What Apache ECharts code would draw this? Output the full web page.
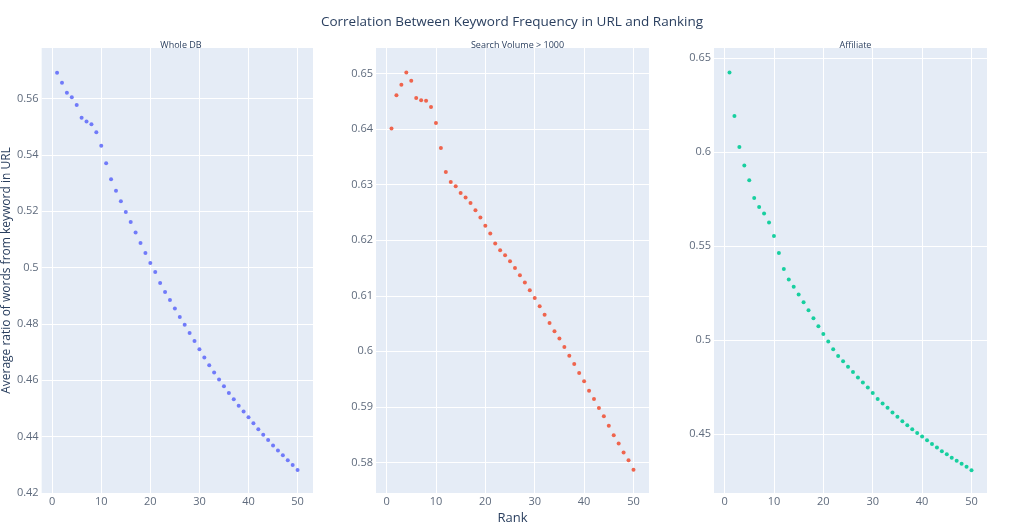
<!DOCTYPE html>
<html>
<head>
<meta charset="utf-8">
<script src="https://cdn.jsdelivr.net/npm/echarts@6/dist/echarts.min.js"></script>
<style>
  html, body { margin: 0; padding: 0; background: #fff; }
  #chart { width: 1024px; height: 530px; }
</style>
</head>
<body>
<div id="chart"></div>
<script>
// rank (x) for each panel
var ranks = [1,2,3,4,5,6,7,8,9,10,11,12,13,14,15,16,17,18,19,20,21,22,23,24,25,
             26,27,28,29,30,31,32,33,34,35,36,37,38,39,40,41,42,43,44,45,46,47,48,49,50];

// average ratio of words from keyword in URL
var wholeDB = [0.5692,0.5657,0.5621,0.5605,0.5578,0.5532,0.5519,0.5509,0.5481,0.5433,
               0.5371,0.5314,0.5273,0.5236,0.5198,0.5162,0.5125,0.5088,0.5052,0.5017,
               0.4985,0.4946,0.4914,0.4885,0.4855,0.4825,0.4797,0.4768,0.4740,0.4710,
               0.4681,0.4654,0.4628,0.4603,0.4579,0.4555,0.4533,0.4510,0.4489,0.4469,
               0.4448,0.4426,0.4407,0.4388,0.4369,0.4351,0.4334,0.4316,0.4299,0.4282];
var searchVol = [0.6401,0.6461,0.6480,0.6502,0.6487,0.6456,0.6452,0.6451,0.6440,0.6411,
                 0.6366,0.6323,0.6305,0.6297,0.6285,0.6277,0.6267,0.6254,0.6241,0.6226,
                 0.6212,0.6194,0.6182,0.6173,0.6162,0.6150,0.6137,0.6124,0.6110,0.6096,
                 0.6081,0.6066,0.6051,0.6036,0.6023,0.6008,0.5992,0.5977,0.5961,0.5946,
                 0.5929,0.5914,0.5898,0.5883,0.5866,0.5849,0.5834,0.5818,0.5804,0.5787];
var affiliate = [0.6423,0.6191,0.6026,0.5928,0.5850,0.5756,0.5707,0.5673,0.5625,0.5554,
                 0.5463,0.5378,0.5322,0.5283,0.5243,0.5201,0.5158,0.5116,0.5073,0.5032,
                 0.4993,0.4951,0.4916,0.4888,0.4858,0.4830,0.4801,0.4775,0.4748,0.4719,
                 0.4687,0.4663,0.4640,0.4615,0.4592,0.4569,0.4547,0.4526,0.4506,0.4487,
                 0.4467,0.4448,0.4429,0.4409,0.4393,0.4375,0.4359,0.4343,0.4327,0.4308];

var subTitles = ['Whole DB', 'Search Volume > 1000', 'Affiliate'];
var xTicks = [0, 10, 20, 30, 40, 50];
var yTicks1 = [0.42, 0.44, 0.46, 0.48, 0.5, 0.52, 0.54, 0.56];
var yTicks2 = [0.58, 0.59, 0.6, 0.61, 0.62, 0.63, 0.64, 0.65];
var yTicks3 = [0.45, 0.5, 0.55, 0.6, 0.65];

var colors = ['#636efa', '#ef553b', '#00cc96'];
var font = 'Open Sans';
var tickColor = '#5f6b7d';

var chart = echarts.init(document.getElementById('chart'), null, { renderer: 'canvas' });

var grids = [
  { left: 39, top: 48, width: 274, height: 445 },
  { left: 376, top: 48, width: 273, height: 445 },
  { left: 714, top: 48, width: 273, height: 445 }
];

function pairs(ys) {
  return ranks.map(function (r, i) { return [r, ys[i]]; });
}

function xAxis(i, name) {
  return {
    type: 'value', gridIndex: i, min: -2.14, max: 53.14,
    name: name || '', nameLocation: 'middle', nameGap: 16,
    nameTextStyle: { color: '#2a3f5f', fontSize: 13, fontFamily: font },
    axisLine: { show: false },
    axisTick: { show: false, customValues: xTicks },
    axisLabel: { customValues: xTicks, color: tickColor, fontSize: 11, fontFamily: font, margin: 3 },
    splitLine: { lineStyle: { color: '#ffffff', width: 1 } }
  };
}

function yAxis(i, min, max, ticks, name) {
  return {
    type: 'value', gridIndex: i, min: min, max: max,
    name: name || '', nameLocation: 'middle', nameGap: 27,
    nameTextStyle: { color: '#2a3f5f', fontSize: 12, fontFamily: font },
    axisLine: { show: false },
    axisTick: { show: false, customValues: ticks },
    axisLabel: {
      customValues: ticks, color: tickColor, fontSize: 11, fontFamily: font, margin: 3,
      formatter: function (v) { return String(+v.toFixed(2)); }
    },
    splitLine: { lineStyle: { color: '#ffffff', width: 1 } }
  };
}

var option = {
  backgroundColor: '#ffffff',
  animation: false,
  title: [
    { text: 'Correlation Between Keyword Frequency in URL and Ranking', left: 'center', top: 10,
      textStyle: { color: '#2a3f5f', fontSize: 13.5, fontWeight: 'normal', fontFamily: font } }
  ].concat(subTitles.map(function (t, i) {
    return {
      text: t, top: 36,
      left: grids[i].left + grids[i].width / 2, textAlign: 'center',
      textStyle: { color: '#2a3f5f', fontSize: 9, fontWeight: 'normal', fontFamily: font }
    };
  })),
  grid: grids.map(function (g) {
    return { left: g.left, top: g.top, width: g.width, height: g.height,
             show: true, backgroundColor: '#e5ecf6', borderWidth: 0 };
  }),
  xAxis: [xAxis(0), xAxis(1, 'Rank'), xAxis(2)],
  yAxis: [
    yAxis(0, 0.42, 0.578, yTicks1, 'Average ratio of words from keyword in URL'),
    yAxis(1, 0.5745, 0.6546, yTicks2),
    yAxis(2, 0.4187, 0.6553, yTicks3)
  ],
  series: [wholeDB, searchVol, affiliate].map(function (d, i) {
    return {
      type: 'scatter', xAxisIndex: i, yAxisIndex: i,
      data: pairs(d), symbol: 'circle', symbolSize: 4,
      itemStyle: { color: colors[i], opacity: 0.9 }
    };
  })
};

chart.setOption(option);
</script>
</body>
</html>
